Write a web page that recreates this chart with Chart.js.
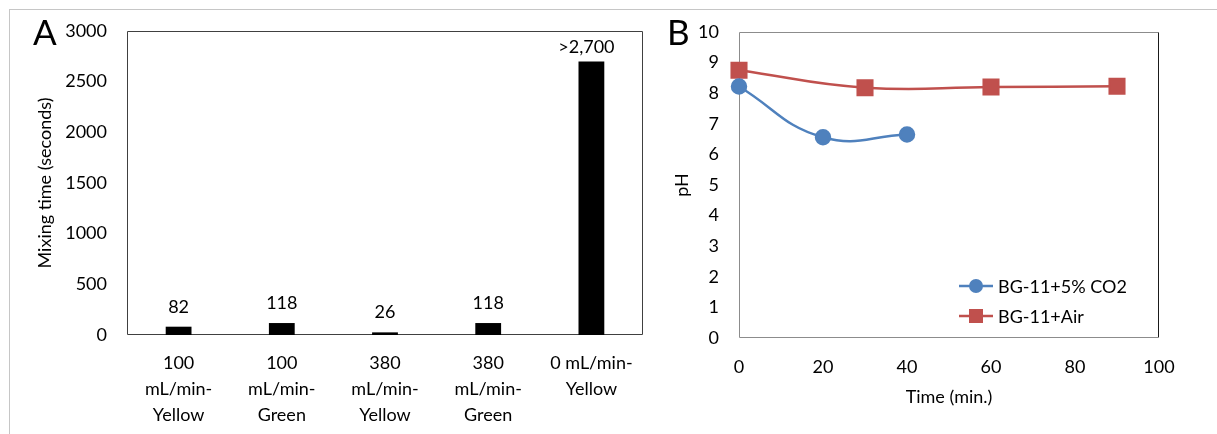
<!DOCTYPE html>
<html>
<head>
<meta charset="utf-8">
<title>Mixing time and pH</title>
<script src="https://cdn.jsdelivr.net/npm/chart.js@4.4.0/dist/chart.umd.min.js"></script>
<style>
  html, body { margin: 0; padding: 0; background: #fff; }
  body { width: 1217px; height: 434px; position: relative; overflow: hidden; }
  .frame { position: absolute; left: 9px; top: 9px; width: 1400px; height: 600px; border: 1px solid #c6c6c6; }
  .panel { position: absolute; top: 0; height: 434px; }
  #panelA { left: 0; width: 650px; }
  #panelB { left: 650px; width: 567px; }
</style>
</head>
<body>
<div class="frame"></div>
<div class="panel" id="panelA"><canvas id="mixChart"></canvas></div>
<div class="panel" id="panelB"><canvas id="phChart"></canvas></div>

<script>
// Panel A: mixing time per aeration setting
const mixLabels = [
  ["100", "mL/min-", "Yellow"],
  ["100", "mL/min-", "Green"],
  ["380", "mL/min-", "Yellow"],
  ["380", "mL/min-", "Green"],
  ["0 mL/min-", "Yellow"]
];
const mixTimes = [82, 118, 26, 118, 2700];
const mixTags = ["82", "118", "26", "118", ">2,700"];
const mixTicks = [0, 500, 1000, 1500, 2000, 2500, 3000];

// Panel B: pH over time
const timeCO2 = [0, 20, 40];
const phCO2 = [8.22, 6.56, 6.65];
const timeAir = [0, 30, 60, 90];
const phAir = [8.75, 8.18, 8.20, 8.23];
const timeTicks = [0, 20, 40, 60, 80, 100];
const phTicks = [0, 1, 2, 3, 4, 5, 6, 7, 8, 9, 10];

const FONT = "Lato";
Chart.defaults.font.family = FONT;
Chart.defaults.color = "#000";

const BLUE = "#4F81BD";
const RED = "#C0504D";

// plain integers on the axes, no thousands separator
const plain = v => String(v);

// frame around the plot area, one colour per side
const plotBox = {
  id: "plotBox",
  beforeDatasetsDraw(chart, args, opts) {
    const { ctx, chartArea: a } = chart;
    const l = Math.round(a.left) + 0.5, r = Math.round(a.right) - 0.5;
    const t = Math.round(a.top) + 0.5, b = Math.round(a.bottom) - 0.5;
    const side = (col, x1, y1, x2, y2) => {
      ctx.strokeStyle = col;
      ctx.beginPath(); ctx.moveTo(x1, y1); ctx.lineTo(x2, y2); ctx.stroke();
    };
    ctx.save();
    ctx.lineWidth = 1;
    side(opts.top, l, t, r, t);
    side(opts.right, r, t, r, b);
    side(opts.bottom, l, b, r, b);
    side(opts.left, l, t, l, b);
    ctx.restore();
  }
};

// big panel letter
const panelLetter = {
  id: "panelLetter",
  afterDraw(chart, args, opts) {
    const { ctx } = chart;
    ctx.save();
    ctx.font = `35px ${FONT}`;
    ctx.fillStyle = "#000";
    ctx.textBaseline = "alphabetic";
    ctx.fillText(opts.text, opts.x, opts.y);
    ctx.restore();
  }
};

// value text above each bar
const barTags = {
  id: "barTags",
  afterDatasetsDraw(chart) {
    const { ctx } = chart;
    const bars = chart.getDatasetMeta(0).data;
    ctx.save();
    ctx.font = `18px ${FONT}`;
    ctx.fillStyle = "#000";
    ctx.textAlign = "center";
    ctx.textBaseline = "middle";
    bars.forEach((bar, i) => {
      const last = i === bars.length - 1;
      ctx.fillText(mixTags[i], bar.x - (last ? 5 : 0), bar.y - (last ? 14 : 20));
    });
    ctx.restore();
  }
};

// legend with a line + marker sample, drawn inside the plot
const lineLegend = {
  id: "lineLegend",
  afterDraw(chart) {
    const { ctx, chartArea: a } = chart;
    ctx.save();
    ctx.font = `18px ${FONT}`;
    ctx.textBaseline = "middle";
    chart.data.datasets.forEach((ds, i) => {
      const y = a.bottom - 52 + i * 30;
      const x0 = a.right - 200;
      ctx.strokeStyle = ds.borderColor;
      ctx.lineWidth = 2.5;
      ctx.beginPath(); ctx.moveTo(x0, y); ctx.lineTo(x0 + 34, y); ctx.stroke();
      ctx.fillStyle = ds.pointBackgroundColor;
      if (ds.pointStyle === "rect") {
        ctx.fillRect(x0 + 10, y - 7, 14, 14);
      } else {
        ctx.beginPath(); ctx.arc(x0 + 17, y, 7, 0, Math.PI * 2); ctx.fill();
      }
      ctx.fillStyle = "#000";
      ctx.fillText(ds.label, x0 + 39, y + 1);
    });
    ctx.restore();
  }
};

const noGrid = { display: false, drawTicks: false };

new Chart(document.getElementById("mixChart"), {
  type: "bar",
  data: {
    labels: mixLabels,
    datasets: [{
      data: mixTimes,
      backgroundColor: "#000",
      barPercentage: 0.25,
      categoryPercentage: 1
    }]
  },
  options: {
    responsive: true,
    maintainAspectRatio: false,
    animation: false,
    layout: { padding: { top: 31, right: 7, bottom: 0, left: 0 } },
    plugins: {
      legend: { display: false },
      tooltip: { enabled: false },
      plotBox: { top: "#404040", right: "#404040", bottom: "#404040", left: "#404040" },
      panelLetter: { text: "A", x: 33, y: 45 }
    },
    scales: {
      x: {
        grid: noGrid,
        border: { display: false },
        ticks: { font: { size: 18, lineHeight: 1.44 }, padding: 15, maxRotation: 0, autoSkip: false },
        afterFit: s => { s.height = 99; }
      },
      y: {
        min: 0, max: 3000,
        grid: noGrid,
        border: { display: false },
        afterBuildTicks: s => { s.ticks = mixTicks.map(v => ({ value: v })); },
        ticks: { font: { size: 18 }, padding: 20, callback: plain },
        title: { display: true, text: "Mixing time (seconds)", font: { size: 18 }, padding: { top: 34, bottom: 0 } },
        afterFit: s => { s.width = 127; }
      }
    }
  },
  plugins: [plotBox, panelLetter, barTags]
});

new Chart(document.getElementById("phChart"), {
  type: "line",
  data: {
    datasets: [
      {
        label: "BG-11+5% CO2",
        data: timeCO2.map((t, i) => ({ x: t, y: phCO2[i] })),
        borderColor: BLUE,
        pointBackgroundColor: BLUE,
        pointBorderColor: BLUE,
        pointStyle: "circle",
        pointRadius: 7,
        borderWidth: 2.5,
        tension: 0.45,
        clip: false
      },
      {
        label: "BG-11+Air",
        data: timeAir.map((t, i) => ({ x: t, y: phAir[i] })),
        borderColor: RED,
        pointBackgroundColor: RED,
        pointBorderColor: RED,
        pointStyle: "rect",
        pointRadius: 10.3,
        borderWidth: 2.5,
        tension: 0.45,
        clip: false
      }
    ]
  },
  options: {
    responsive: true,
    maintainAspectRatio: false,
    animation: false,
    layout: { padding: { top: 32, right: 58, bottom: 0, left: 0 } },
    plugins: {
      legend: { display: false },
      tooltip: { enabled: false },
      plotBox: { top: "#8c8c8c", right: "#1a1a1a", bottom: "#8c8c8c", left: "#8c8c8c" },
      panelLetter: { text: "B", x: 17, y: 45 }
    },
    scales: {
      x: {
        type: "linear",
        min: 0, max: 100,
        grid: noGrid,
        border: { display: false },
        afterBuildTicks: s => { s.ticks = timeTicks.map(v => ({ value: v })); },
        ticks: { font: { size: 18 }, padding: 18, callback: plain },
        title: { display: true, text: "Time (min.)", font: { size: 18 }, padding: { top: 0, bottom: 26 } },
        afterFit: s => { s.height = 96; }
      },
      y: {
        min: 0, max: 10,
        grid: noGrid,
        border: { display: false },
        afterBuildTicks: s => { s.ticks = phTicks.map(v => ({ value: v })); },
        ticks: { font: { size: 18 }, padding: 20, callback: plain },
        title: { display: true, text: "pH", font: { size: 18 }, padding: { top: 21, bottom: 0 } },
        afterFit: s => { s.width = 89; }
      }
    }
  },
  plugins: [plotBox, panelLetter, lineLegend]
});
</script>
</body>
</html>
